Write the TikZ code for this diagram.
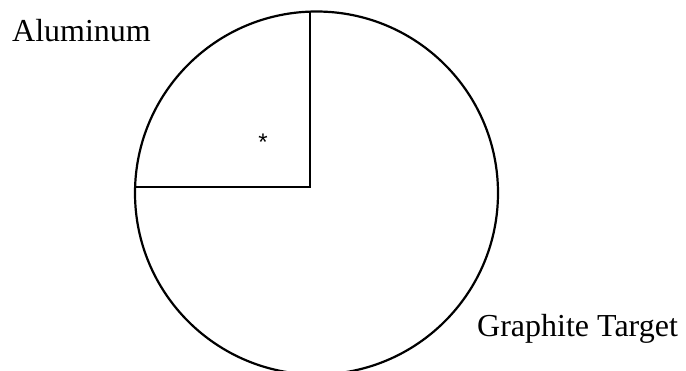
\documentclass[tikz,border=0pt]{standalone}
\usepackage{fontspec}
\setmainfont{Liberation Serif}
\newfontfamily\starfont{Liberation Sans}
\begin{document}
\begin{tikzpicture}[x=1pt,y=-1pt,
  outline/.style={line width=2.2pt,black},
  label/.style={anchor=base west,inner sep=0pt,font=\fontsize{32}{36}\selectfont}]
\useasboundingbox (0,0) rectangle (686,371);
\clip (0,0) rectangle (686,371);
\coordinate (c) at (316.5,193);
\coordinate (corner) at (310,187);
\coordinate (top) at (310,11.6);
\coordinate (left) at (135.1,187);
\draw[outline] (c) circle[radius=181.5];
\draw[outline] (top) -- (corner) -- (left);
\node[label] (al) at (12,42) {Aluminum};
\node[label] (gt) at (477,337) {Graphite Target};
\node[inner sep=0pt,font=\starfont\fontsize{24}{28}\selectfont] (star) at (263,142) {*};
\end{tikzpicture}
\end{document}
